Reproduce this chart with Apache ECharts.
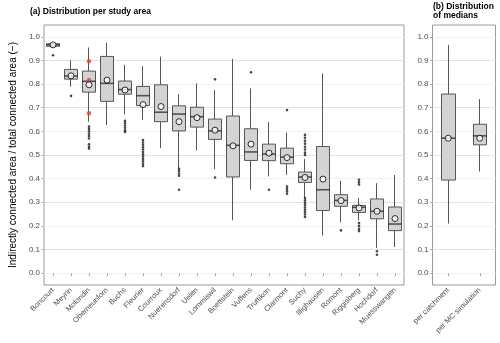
<!DOCTYPE html>
<html>
<head>
<meta charset="utf-8">
<script src="https://cdn.jsdelivr.net/npm/echarts@6/dist/echarts.min.js"></script>
<style>
  html, body { margin: 0; padding: 0; background: #fff; }
  #chart { width: 500px; height: 343px; }
</style>
</head>
<body>
<div id="chart"></div>
<script>
// (a) per study area
var catchments = ['Boncourt', 'Meyrin', 'Molondin', 'Oberneunforn', 'Buchs', 'Fleurier', 'Courroux',
    'Nuerensdorf', 'Uelen', 'Lommiswil', 'Boettstein', 'Vuffens', 'Truttikon', 'Clarmont', 'Suchy',
    'Illighausen', 'Romont', 'Riggisberg', 'Hochdorf', 'Muesswangen'];
var whiskerLow  = [0.955, 0.789, 0.641, 0.627, 0.672, 0.648, 0.529, 0.445, 0.519, 0.440, 0.224, 0.353, 0.409, 0.416, 0.322, 0.159, 0.215, 0.224, 0.107, 0.111];
var q1          = [0.960, 0.821, 0.766, 0.727, 0.757, 0.709, 0.641, 0.602, 0.618, 0.566, 0.407, 0.477, 0.476, 0.463, 0.384, 0.265, 0.283, 0.257, 0.230, 0.180];
var median      = [0.966, 0.834, 0.812, 0.803, 0.777, 0.751, 0.681, 0.673, 0.662, 0.602, 0.541, 0.513, 0.504, 0.491, 0.407, 0.353, 0.308, 0.279, 0.262, 0.208];
var q3          = [0.971, 0.862, 0.855, 0.917, 0.813, 0.790, 0.797, 0.708, 0.702, 0.652, 0.665, 0.611, 0.546, 0.529, 0.428, 0.536, 0.332, 0.287, 0.314, 0.280];
var whiskerHigh = [0.975, 0.900, 0.955, 0.975, 0.881, 0.876, 0.916, 0.757, 0.803, 0.775, 0.907, 0.782, 0.639, 0.595, 0.483, 0.845, 0.391, 0.318, 0.381, 0.415];
var means       = [0.966, 0.835, 0.797, 0.817, 0.775, 0.713, 0.705, 0.641, 0.658, 0.605, 0.539, 0.546, 0.508, 0.489, 0.405, 0.398, 0.307, 0.276, 0.262, 0.231];
var outliers = [
    [0.922],
    [0.750],
    [0.620, 0.610, 0.600, 0.590, 0.580, 0.570, 0.545, 0.535, 0.527],
    [],
    [0.645, 0.635, 0.625, 0.615, 0.605, 0.597],
    [0.563, 0.553, 0.543, 0.533, 0.523, 0.513, 0.503, 0.493, 0.483, 0.473, 0.463, 0.453],
    [],
    [0.442, 0.432, 0.422, 0.412, 0.353],
    [],
    [0.820, 0.405],
    [],
    [0.850],
    [0.353],
    [0.690, 0.366, 0.356, 0.346, 0.336],
    [0.585, 0.573, 0.560, 0.548, 0.535, 0.523, 0.510, 0.500,
     0.318, 0.308, 0.298, 0.288, 0.278, 0.268, 0.258, 0.248, 0.238],
    [],
    [0.181],
    [0.395, 0.385, 0.375, 0.212, 0.200, 0.188, 0.178],
    [0.093, 0.078],
    []
];
// red points in Molondin
var redIndex = 2;
var redPoints = [0.897, 0.817, 0.677];

// (b) distribution of medians
var groups      = ['per catchment', 'per MC simulation'];
var gWhiskerLow = [0.210, 0.430];
var gQ1         = [0.394, 0.543];
var gMedian     = [0.571, 0.581];
var gQ3         = [0.758, 0.630];
var gWhiskerHi  = [0.965, 0.737];
var gMeans      = [0.571, 0.571];

var yTicks = [0, 0.1, 0.2, 0.3, 0.4, 0.5, 0.6, 0.7, 0.8, 0.9, 1.0];

var FONT = 'Liberation Sans, Arial, sans-serif';

function candle(lo, a, b, hi) {
    return lo.map(function (v, i) { return [a[i], b[i], v, hi[i]]; });
}
function points(vals) {
    return vals.map(function (v, i) { return [i, v]; });
}

var outlierData = [];
outliers.forEach(function (list, i) {
    list.forEach(function (v) { outlierData.push([i, v]); });
});
var redData = redPoints.map(function (v) { return [redIndex, v]; });

var boxStyle = {
    color: '#d3d3d3', color0: '#d3d3d3',
    borderColor: '#555', borderColor0: '#555', borderColorDoji: '#555',
    borderWidth: 1
};

function yAxisFor(gi, withName) {
    return {
        type: 'value', gridIndex: gi,
        min: -0.05, max: 1.05, interval: 0.05,
        name: withName ? 'Indirectly connected area / total connected area (\u2212)' : '',
        nameLocation: 'middle', nameRotate: 90, nameGap: 18,
        nameTextStyle: { fontFamily: FONT, fontSize: 10, color: '#000' },
        axisLine: { show: false },
        axisTick: { show: true, customValues: yTicks, length: 2.5, lineStyle: { color: '#a6a6a6' } },
        axisLabel: {
            fontFamily: FONT, fontSize: 8, color: '#4d4d4d', margin: 4,
            formatter: function (v) {
                var k = Math.round(v * 100);
                return (k % 10 === 0 && k >= 0) ? (k / 100).toFixed(1) : '';
            }
        },
        splitLine: { show: true, lineStyle: { color: ['#f1f1f1', '#e2e2e2'], width: 1 } }
    };
}

function xAxisFor(gi, data) {
    return {
        type: 'category', gridIndex: gi, data: data, boundaryGap: true,
        axisLine: { show: false },
        axisTick: { show: true, alignWithLabel: true, length: 3, lineStyle: { color: '#a6a6a6' } },
        axisLabel: { rotate: 45, fontFamily: FONT, fontSize: 7.5, color: '#4d4d4d', margin: 4, interval: 0 },
        splitLine: { show: false }
    };
}

var chart = echarts.init(document.getElementById('chart'));
var option = {
    animation: false,
    backgroundColor: '#fff',
    title: [
        { text: '(a) Distribution per study area', left: 30, top: 7, padding: 0,
          textStyle: { fontFamily: FONT, fontSize: 8.5, fontWeight: 'bold', color: '#000' } },
        { text: '(b) Distribution\nof medians', left: 433, top: 2.5, padding: 0,
          textStyle: { fontFamily: FONT, fontSize: 8.5, fontWeight: 'bold', color: '#000', lineHeight: 8.5 } }
    ],
    grid: [
        { left: 31, top: 25, width: 373, height: 260, show: true, borderColor: '#9a9a9a', borderWidth: 1, backgroundColor: '#fff' },
        { left: 432.5, top: 25, width: 63, height: 260, show: true, borderColor: '#9a9a9a', borderWidth: 1, backgroundColor: '#fff' }
    ],
    xAxis: [xAxisFor(0, catchments), xAxisFor(1, groups)],
    yAxis: [yAxisFor(0, true), yAxisFor(1, false)],
    series: [
        { type: 'candlestick', xAxisIndex: 0, yAxisIndex: 0, barWidth: 14, itemStyle: boxStyle,
          data: candle(whiskerLow, q1, q3, whiskerHigh), z: 2 },
        { type: 'candlestick', xAxisIndex: 1, yAxisIndex: 1, barWidth: 14, itemStyle: boxStyle,
          data: candle(gWhiskerLow, gQ1, gQ3, gWhiskerHi), z: 2 },
        { type: 'scatter', xAxisIndex: 0, yAxisIndex: 0, symbol: 'rect', symbolSize: [14, 1.6],
          itemStyle: { color: '#333' }, data: points(median), z: 3 },
        { type: 'scatter', xAxisIndex: 1, yAxisIndex: 1, symbol: 'rect', symbolSize: [14, 1.6],
          itemStyle: { color: '#333' }, data: points(gMedian), z: 3 },
        { type: 'scatter', xAxisIndex: 0, yAxisIndex: 0, symbol: 'circle', symbolSize: 2.6,
          itemStyle: { color: '#1a1a1a' }, data: outlierData, z: 4 },
        { type: 'scatter', xAxisIndex: 0, yAxisIndex: 0, symbol: 'circle', symbolSize: 4.5,
          itemStyle: { color: '#f03a3a' }, data: redData, z: 5 },
        { type: 'scatter', xAxisIndex: 0, yAxisIndex: 0, symbol: 'circle', symbolSize: 6,
          itemStyle: { color: '#fff', borderColor: '#000', borderWidth: 1 }, data: points(means), z: 6 },
        { type: 'scatter', xAxisIndex: 1, yAxisIndex: 1, symbol: 'circle', symbolSize: 6,
          itemStyle: { color: '#fff', borderColor: '#000', borderWidth: 1 }, data: points(gMeans), z: 6 }
    ]
};
chart.setOption(option);
</script>
</body>
</html>
